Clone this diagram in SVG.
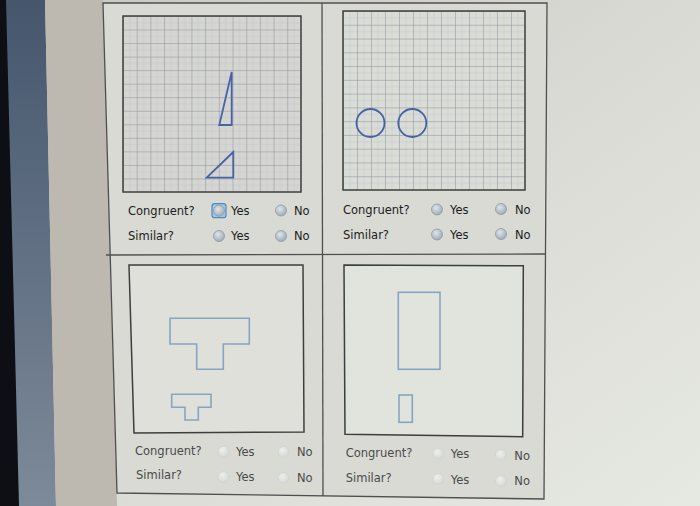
<svg xmlns="http://www.w3.org/2000/svg" width="700" height="506" viewBox="0 0 700 506">
<defs>
  <linearGradient id="bg" x1="0" y1="0" x2="1" y2="1">
    <stop offset="0" stop-color="#c9c7c1"/>
    <stop offset="0.5" stop-color="#d9dad3"/>
    <stop offset="1" stop-color="#e6e9e2"/>
  </linearGradient>
  <linearGradient id="strip" x1="0" y1="0" x2="0" y2="1">
    <stop offset="0" stop-color="#45566d"/>
    <stop offset="1" stop-color="#7d8a99"/>
  </linearGradient>
  <radialGradient id="radio" cx="0.4" cy="0.35" r="0.7">
    <stop offset="0" stop-color="#dfe5ea"/>
    <stop offset="1" stop-color="#9aa8b4"/>
  </radialGradient>
  <radialGradient id="radioFaint" cx="0.4" cy="0.35" r="0.7">
    <stop offset="0" stop-color="#eef0ec"/>
    <stop offset="1" stop-color="#d2d6d2"/>
  </radialGradient>
  <pattern id="gridA" patternUnits="userSpaceOnUse" x="123" y="16" width="13.69" height="13.54">
    <path d="M6.85 0V13.54M0 6.77H13.69" stroke="#c4c6cc" stroke-width="0.6" fill="none"/>
    <path d="M0 0V13.54M0 0H13.69" stroke="#8a8e9c" stroke-width="1" fill="none"/>
  </pattern>
  <pattern id="gridB" patternUnits="userSpaceOnUse" x="343" y="11" width="14" height="13.77">
    <path d="M7 0V13.77M0 6.88H14" stroke="#c6c9cf" stroke-width="0.6" fill="none"/>
    <path d="M0 0V13.77M0 0H14" stroke="#8a8e9c" stroke-width="1" fill="none"/>
  </pattern>
  <style>
    .frame{fill:none;stroke:#4f4f4f;stroke-width:1.3}
    .box{fill:none;stroke:#3e3e3e;stroke-width:1.5}
    .shape{fill:none;stroke:#4563a6;stroke-width:1.8}
    .shapeL{fill:none;stroke:#86a5c4;stroke-width:1.6}
    .lbl{font-family:"DejaVu Sans","Liberation Sans",sans-serif;font-size:11.5px;fill:#1c1c1c}
    .lblL{font-family:"DejaVu Sans","Liberation Sans",sans-serif;font-size:11.5px;fill:#4a4a4a}
    .r{fill:url(#radio);stroke:#8e9ba7;stroke-width:0.8}
    .rL{fill:url(#radioFaint);stroke:#cfd3cf;stroke-width:0.8}
  </style>
</defs>
<rect width="700" height="506" fill="url(#bg)"/>
<polygon points="0,0 45,0 56,506 0,506" fill="url(#strip)"/>
<polygon points="0,0 6,0 19,506 0,506" fill="#0d0f14"/>
<polygon points="45,0 103,0 117,506 56,506" fill="#bdb8b0"/>
<polygon points="103,3 547,3 544,499 117,493" fill="#d9dad4"/>

<g id="connectors"></g>

<g id="frame">
  <path class="frame" d="M103 3L547 3L544 499L117 493Z"/>
  <path class="frame" d="M322 3L323 496"/>
  <path class="frame" d="M106 255L546 254"/>
</g>

<g id="panel-triangles">
  <rect x="123" y="16" width="178" height="176" fill="#d5d5d1"/>
  <rect x="123" y="16" width="178" height="176" fill="url(#gridA)"/>
  <rect class="box" x="123" y="16" width="178" height="176"/>
  <polygon class="shape" points="231.7,72 219.3,125 231.7,125"/>
  <polygon class="shape" points="233.3,152 206.7,177.7 233.3,177.7"/>
  <text class="lbl" x="128" y="215">Congruent?</text>
  <rect x="212" y="203.7" width="14" height="14" rx="2.5" fill="#a9c4dc" stroke="#4e8cc0" stroke-width="1.2"/>
  <circle class="r" cx="219" cy="210.7" r="5.5"/>
  <text class="lbl" x="231" y="215">Yes</text>
  <circle class="r" cx="281" cy="210.5" r="5.5"/>
  <text class="lbl" x="294" y="215">No</text>
  <text class="lbl" x="128" y="240">Similar?</text>
  <circle class="r" cx="219" cy="236" r="5.5"/>
  <text class="lbl" x="231" y="240">Yes</text>
  <circle class="r" cx="281" cy="236" r="5.5"/>
  <text class="lbl" x="294" y="240">No</text>
</g>

<g id="panel-circles">
  <rect x="343" y="11" width="182" height="179" fill="#dadcd6"/>
  <rect x="343" y="11" width="182" height="179" fill="url(#gridB)"/>
  <rect class="box" x="343" y="11" width="182" height="179"/>
  <circle class="shape" cx="370.5" cy="123" r="14"/>
  <circle class="shape" cx="412.3" cy="123" r="14"/>
  <text class="lbl" x="343" y="214">Congruent?</text>
  <circle class="r" cx="437" cy="209.5" r="5.5"/>
  <text class="lbl" x="450" y="214">Yes</text>
  <circle class="r" cx="501" cy="209" r="5.5"/>
  <text class="lbl" x="515" y="214">No</text>
  <text class="lbl" x="343" y="239">Similar?</text>
  <circle class="r" cx="437" cy="234.5" r="5.5"/>
  <text class="lbl" x="450" y="239">Yes</text>
  <circle class="r" cx="501" cy="234" r="5.5"/>
  <text class="lbl" x="515" y="239">No</text>
</g>

<g id="panel-t-shapes">
  <polygon points="129,265 303,265 304,432 134,433" fill="#dfe0da"/>
  <path class="box" d="M129 265L303 265L304 432L134 433Z"/>
  <path class="shapeL" d="M170 318.3H249.3V344H223.3V369.3H196.7V344H170Z"/>
  <path class="shapeL" d="M171.7 394.3H211V407.3H198.3V420H185V407.3H171.7Z"/>
  <text class="lblL" x="135" y="455">Congruent?</text>
  <circle class="rL" cx="223.5" cy="451.7" r="5.5"/>
  <text class="lblL" x="236" y="456">Yes</text>
  <circle class="rL" cx="283.5" cy="452" r="5.5"/>
  <text class="lblL" x="297" y="456">No</text>
  <text class="lblL" x="136" y="479">Similar?</text>
  <circle class="rL" cx="223.5" cy="477" r="5.5"/>
  <text class="lblL" x="236" y="481">Yes</text>
  <circle class="rL" cx="283.5" cy="478" r="5.5"/>
  <text class="lblL" x="297" y="482">No</text>
</g>

<g id="panel-rectangles">
  <polygon points="344,265 523.3,265.7 522.7,436.7 345,434.3" fill="#e1e4dd"/>
  <path class="box" d="M344 265L523.3 265.7L522.7 436.7L345 434.3Z"/>
  <rect class="shapeL" x="398.3" y="292.3" width="41.7" height="77"/>
  <rect class="shapeL" x="399" y="395" width="13.3" height="27.3"/>
  <text class="lblL" x="345.7" y="457">Congruent?</text>
  <circle class="rL" cx="438.3" cy="453.7" r="5.5"/>
  <text class="lblL" x="450.7" y="458">Yes</text>
  <circle class="rL" cx="501" cy="455" r="5.5"/>
  <text class="lblL" x="514.3" y="460">No</text>
  <text class="lblL" x="345.7" y="482">Similar?</text>
  <circle class="rL" cx="438.3" cy="479" r="5.5"/>
  <text class="lblL" x="450.7" y="484">Yes</text>
  <circle class="rL" cx="501" cy="481" r="5.5"/>
  <text class="lblL" x="514.3" y="485">No</text>
</g>
</svg>
